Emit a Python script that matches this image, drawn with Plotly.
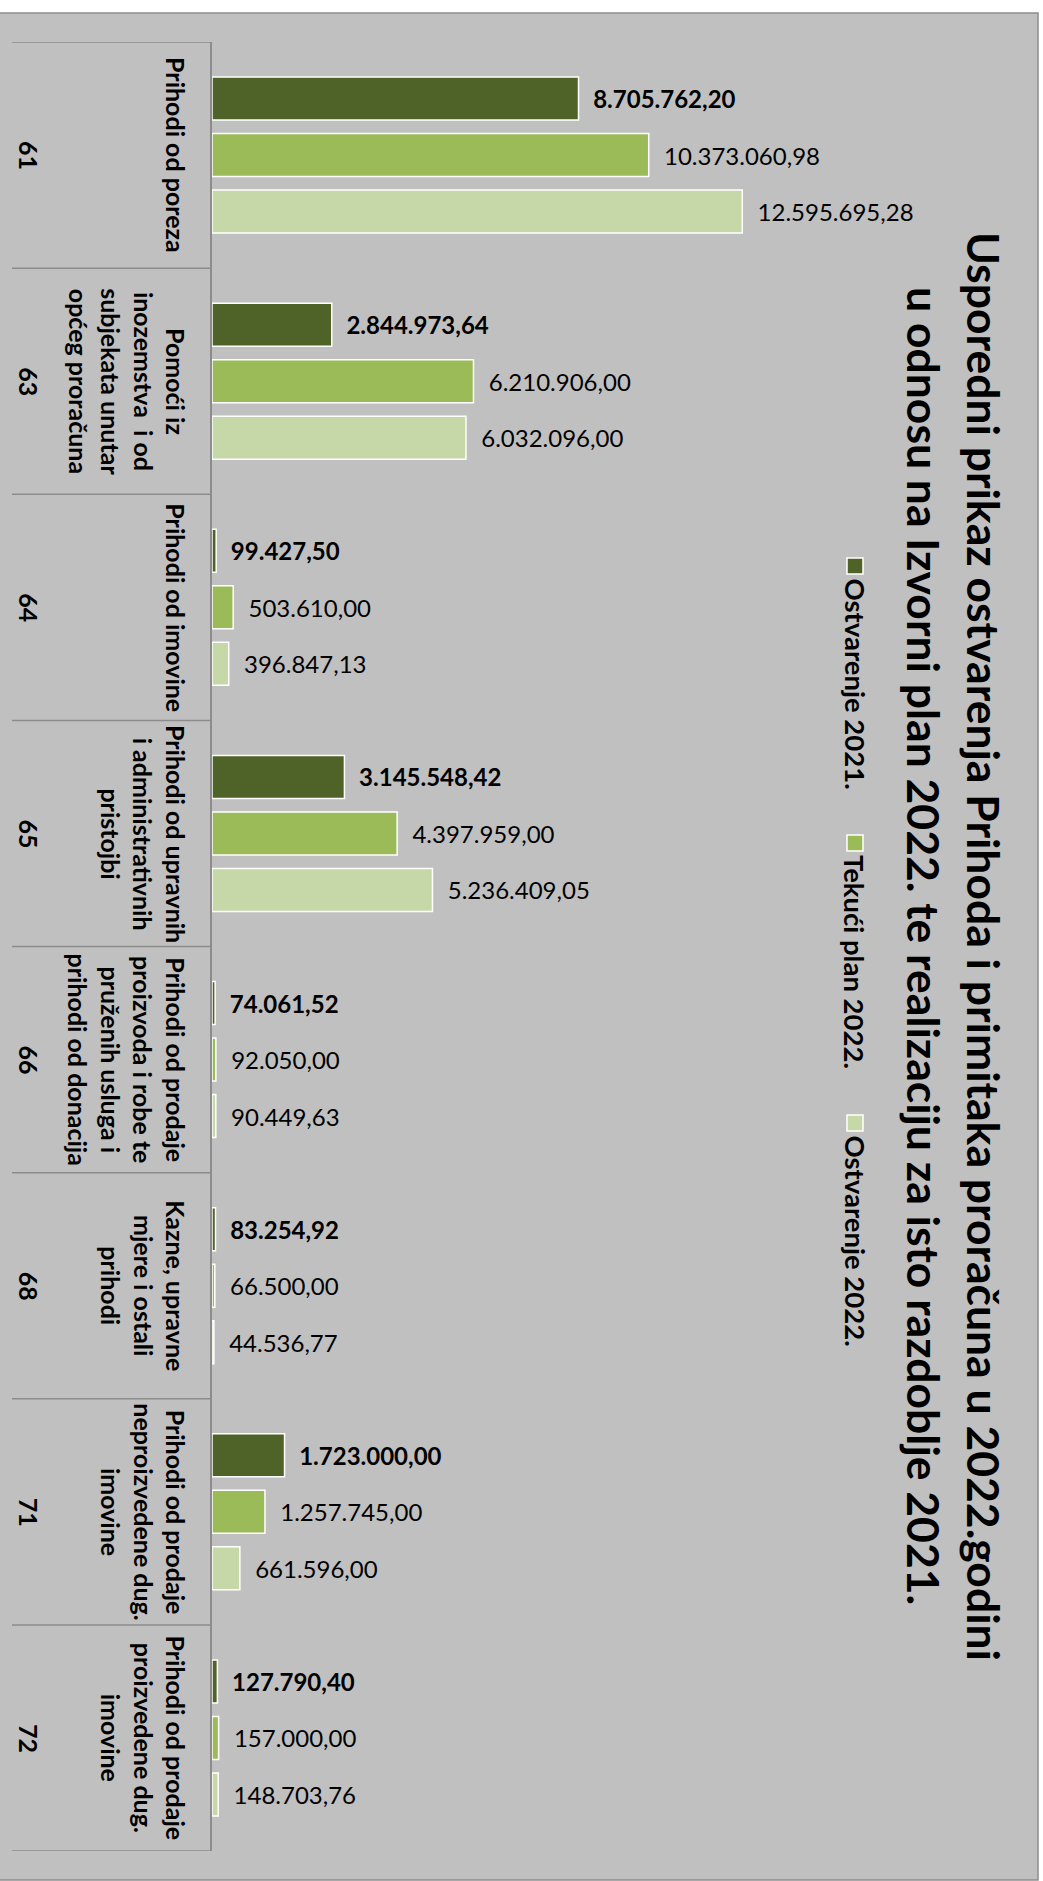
import plotly.graph_objects as go

# ---------------- data ----------------
codes = ["61", "63", "64", "65", "66", "68", "71", "72"]
descriptions = [
    "Prihodi od poreza",
    "Pomoći iz<br>inozemstva  i od<br>subjekata unutar<br>općeg proračuna",
    "Prihodi od imovine",
    "Prihodi od upravnih<br>i administrativnih<br>pristojbi",
    "Prihodi od prodaje<br>proizvoda i robe te<br>pruženih usluga i<br>prihodi od donacija",
    "Kazne, upravne<br>mjere i ostali<br>prihodi",
    "Prihodi od prodaje<br>neproizvedene dug.<br>imovine",
    "Prihodi od prodaje<br>proizvedene dug.<br>imovine",
]
series_names = ["Ostvarenje 2021.", "Tekući plan 2022.", "Ostvarenje 2022."]
ostvarenje_2021 = [8705762.20, 2844973.64, 99427.50, 3145548.42, 74061.52, 83254.92, 1723000.00, 127790.40]
tekuci_plan_2022 = [10373060.98, 6210906.00, 503610.00, 4397959.00, 92050.00, 66500.00, 1257745.00, 157000.00]
ostvarenje_2022 = [12595695.28, 6032096.00, 396847.13, 5236409.05, 90449.63, 44536.77, 661596.00, 148703.76]
title_lines = [
    "Usporedni prikaz ostvarenja Prihoda i primitaka proračuna u 2022.godini",
    "u odnosu na Izvorni plan 2022. te realizaciju za isto razdoblje 2021.",
]

# ---------------- style ----------------
W, H = 1043, 1881
colors = ["#4F6228", "#9BBB59", "#C6D7A8"]
FONT = "Lato"


def px(x):
    return x / W


def py(y):
    return 1 - y / H


def fmt(v):
    s = f"{v:,.2f}"
    return s.replace(",", "X").replace(".", ",").replace("X", ".")


series_values = [ostvarenje_2021, tekuci_plan_2022, ostvarenje_2022]

fig = go.Figure()
for i, (name, vals) in enumerate(zip(series_names, series_values)):
    fig.add_trace(go.Bar(
        y=codes, x=vals, name=name, orientation="h",
        marker=dict(color=colors[i], line=dict(color="white", width=1.5)),
        text=["\u00a0\u00a0" + fmt(v) for v in vals],
        textposition="outside",
        textfont=dict(family=FONT, size=24, color="black",
                      weight="bold" if i == 0 else "normal"),
        constraintext="none",
        cliponaxis=False,
        showlegend=False,
    ))

plot_left, plot_right = 212, 1038
plot_top, plot_bottom = 42, 1851
px_per_unit = 42.1e-6
xmax = (plot_right - plot_left) / px_per_unit

shapes = []
# outer chart area
shapes.append(dict(type="rect", xref="paper", yref="paper",
                   x0=px(-2), x1=px(1038), y0=py(1880), y1=py(13),
                   fillcolor="#C0C0C0", line=dict(color="#8C8C8C", width=1.5),
                   layer="below"))
# category table separators
for k in range(len(codes) + 1):
    shapes.append(dict(type="line", xref="paper", yref="y",
                       x0=px(12), x1=px(plot_left), y0=k - 0.5, y1=k - 0.5,
                       line=dict(color="#8C8C8C", width=1.5)))

annotations = []
for idx, (c, d) in enumerate(zip(codes, descriptions)):
    annotations.append(dict(xref="paper", yref="y", x=px(29), y=idx,
                            text=f"<b>{c}</b>", showarrow=False, textangle=90,
                            xanchor="center", yanchor="middle",
                            font=dict(family=FONT, size=25, color="black")))
    annotations.append(dict(xref="paper", yref="y", x=px(193), y=idx,
                            text=f"<b>{d}</b>", showarrow=False, textangle=90,
                            xanchor="right", yanchor="middle", align="center",
                            font=dict(family=FONT, size=25, color="black")))

# title (two rotated lines)
for xpos, line in zip([985, 925], title_lines):
    annotations.append(dict(xref="paper", yref="paper", x=px(xpos), y=py(946),
                            text=f"<b>{line}</b>", showarrow=False, textangle=90,
                            xanchor="center", yanchor="middle",
                            font=dict(family=FONT, size=44.5, color="black")))

# legend (rotated)
legend_pos = [558, 835, 1115]
for name, col, ytop in zip(series_names, colors, legend_pos):
    shapes.append(dict(type="rect", xref="paper", yref="paper",
                       x0=px(847), x1=px(863), y0=py(ytop + 16), y1=py(ytop),
                       fillcolor=col, line=dict(color="white", width=1.5)))
    annotations.append(dict(xref="paper", yref="paper", x=px(855), y=py(ytop + 18),
                            text=f"<b>{name}</b>", showarrow=False, textangle=90,
                            xanchor="center", yanchor="top",
                            font=dict(family=FONT, size=27.5, color="black")))

fig.update_layout(
    width=W, height=H,
    margin=dict(l=0, r=0, t=0, b=0),
    paper_bgcolor="white",
    plot_bgcolor="rgba(0,0,0,0)",
    barmode="group",
    bargap=0.25,
    bargroupgap=0.24,
    showlegend=False,
    shapes=shapes,
    annotations=annotations,
    xaxis=dict(domain=[px(plot_left), px(plot_right)], range=[0, xmax],
               showgrid=False, zeroline=False, showticklabels=False,
               showline=False, ticks=""),
    yaxis=dict(domain=[py(plot_bottom), py(plot_top)], type="category",
               categoryorder="array", categoryarray=codes,
               range=[len(codes) - 0.5, -0.5],
               showgrid=False, zeroline=False, showticklabels=False,
               showline=True, linecolor="#8C8C8C", linewidth=1.5, ticks=""),
)

fig.write_html("out.html", config={"displayModeBar": False},
               post_script="document.body.style.margin='0';")
